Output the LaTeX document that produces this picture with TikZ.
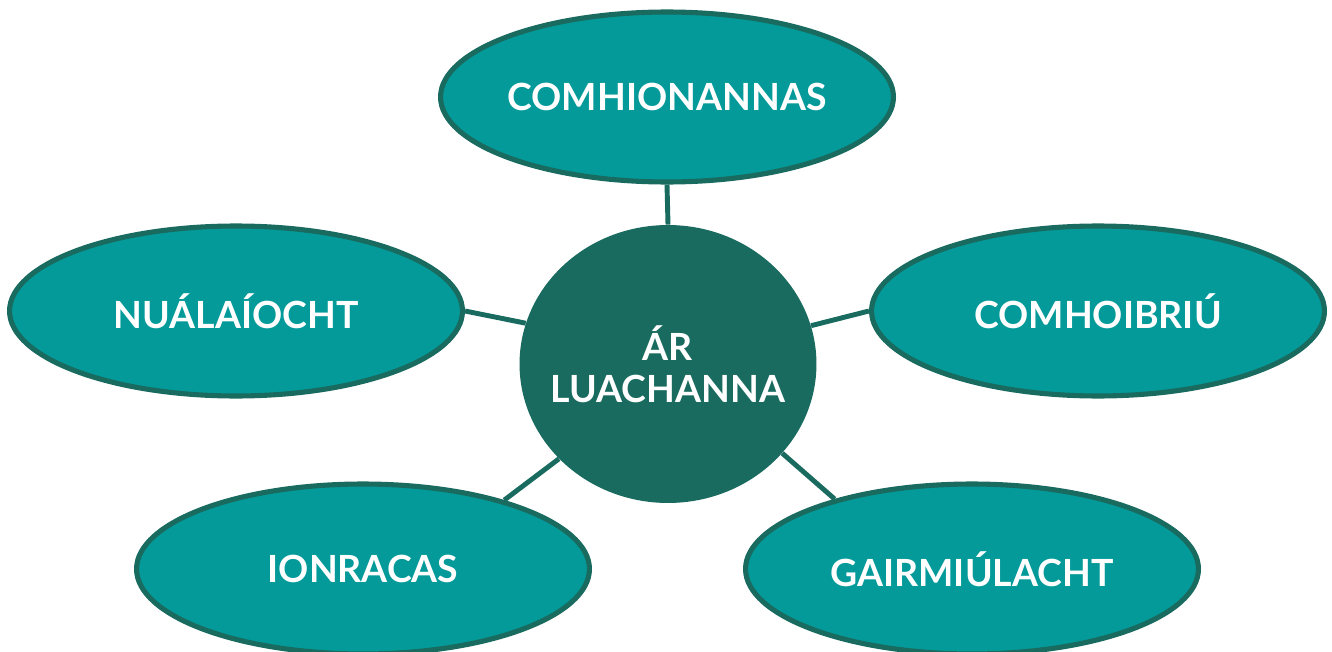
\documentclass[tikz,border=0pt]{standalone}
\usepackage{fontspec}
\setmainfont{Lato}
\usepackage{tikz}
\usetikzlibrary{shapes.geometric}
\definecolor{tealfill}{HTML}{039A99}
\definecolor{darkteal}{HTML}{1A6B5F}

\begin{document}
\begin{tikzpicture}[x=0.02cm,y=-0.02cm,
	value/.style={ellipse,draw=darkteal,line width=2.9pt,fill=tealfill,minimum width=9.06cm,minimum height=3.4cm,inner sep=0pt,text=white,font=\bfseries\fontsize{21.3}{24}\selectfont},
	link/.style={darkteal,line width=2.8pt}]
	\clip (0,0) rectangle (1332,652);
	\node[ellipse,fill=darkteal,minimum width=5.94cm,minimum height=5.56cm,inner xsep=-30pt,inner ysep=0pt,text=white,align=center,font=\bfseries\fontsize{21.3}{24}\selectfont] (core) at (668,364) {ÁR\\LUACHANNA};
	\node[value] (comh) at (667,97) {COMHIONANNAS};
	\node[value] (nual) at (236,311) {NUÁLAÍOCHT};
	\node[value] (oibr) at (1098,311) {COMHOIBRIÚ};
	\node[value] (ionr) at (363,569) {IONRACAS};
	\node[value] (gair) at (972,569) {GAIRMIÚLACHT};
	\draw[link] (core.90) -- (comh.south);
	\draw[link] (core.164) -- (nual.east);
	\draw[link] (core.15) -- (oibr.west);
	\draw[link] (core.221) -- (ionr.26);
	\draw[link] (core.-38) -- (gair.153);
\end{tikzpicture}
\end{document}
